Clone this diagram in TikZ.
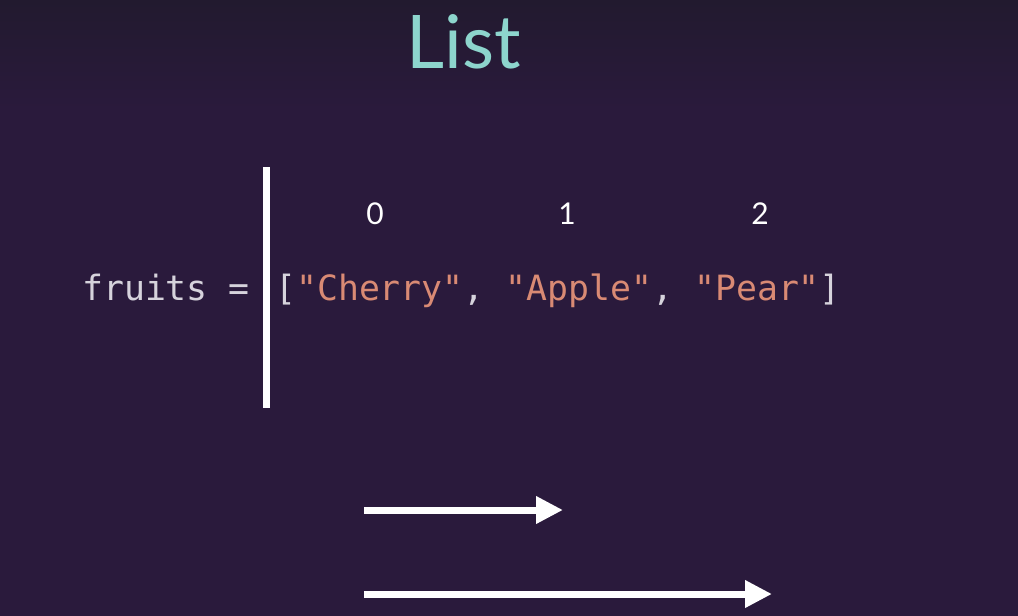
\documentclass[tikz,border=0pt]{standalone}
\usepackage{fontspec}
\setmainfont{Lato}
\setmonofont{DejaVu Sans Mono}
\usetikzlibrary{arrows.meta}
\definecolor{bgtop}{HTML}{221A2F}
\definecolor{bgmain}{HTML}{2A1A3C}
\definecolor{titlecol}{HTML}{8DD5CD}
\definecolor{strcol}{HTML}{D98A74}
\definecolor{codecol}{HTML}{D6D3DC}
\tikzset{
  code/.style={font=\fontsize{34.8}{40}\ttfamily, text=codecol, inner sep=0pt, anchor=base west},
  index/.style={font=\fontsize{30}{36}\selectfont, text=white, inner sep=0pt, anchor=base},
  pointer/.style={white, line width=7pt, -{Triangle[length=27pt,width=26pt]}}
}
\newcommand{\str}[1]{\textcolor{strcol}{#1}}

\begin{document}
\begin{tikzpicture}[x=1pt,y=-1pt]
  \useasboundingbox (0,0) rectangle (1018,616);
  \fill[bgmain] (0,0) rectangle (1018,616);
  \shade[top color=bgtop, bottom color=bgmain] (0,0) rectangle (1018,110);
  \node[font=\fontsize{74}{80}\selectfont, text=titlecol, inner sep=0pt, anchor=base] (title) at (464,68) {List};
  % the variable and its list
  \node[code] (name) at (82,300) {fruits =};
  \node[code] (items) at (275,300) {[\str{"Cherry"}, \str{"Apple"}, \str{"Pear"}]};
  \coordinate (bartop) at (266.5,167);
  \coordinate (barbot) at (266.5,408);
  \draw[white, line width=7pt] (bartop) -- (barbot);
  % indices
  \node[index] (i0) at (375,224) {0};
  \node[index] (i1) at (567,224) {1};
  \node[index] (i2) at (760,224) {2};
  % arrows
  \coordinate (a1s) at (364,510);
  \coordinate (a1e) at (563,510);
  \coordinate (a2s) at (364,594);
  \coordinate (a2e) at (772,594);
  \draw[pointer] (a1s) -- (a1e);
  \draw[pointer] (a2s) -- (a2e);
\end{tikzpicture}
\end{document}
